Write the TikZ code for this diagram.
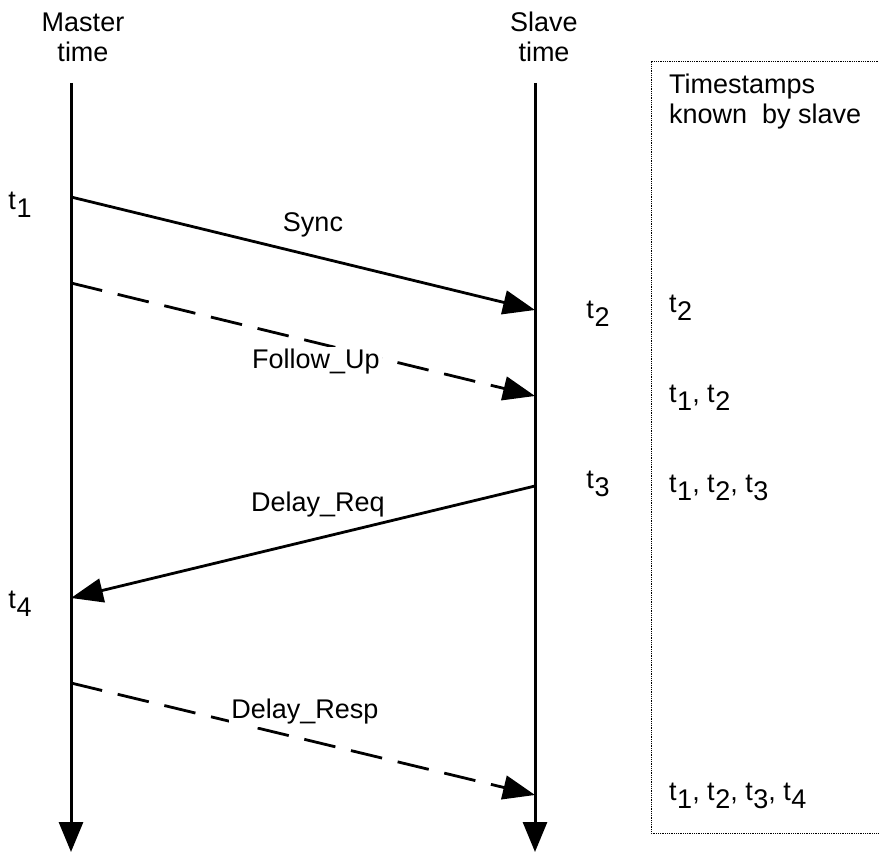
\documentclass[tikz,border=0pt]{standalone}
\usepackage{fontspec}
\setmainfont{Liberation Sans}
\usetikzlibrary{arrows.meta}

\newcommand{\tst}[1]{t\kern0.02em\raisebox{-0.3em}{#1}}

\tikzset{
  timeline/.style={line width=3pt, -{Triangle[length=30pt,width=24pt]}},
  msg/.style={line width=2.8pt, -{Triangle[length=32pt,width=24pt]}},
  fup/.style={msg, dash pattern=on 32pt off 16pt},
  lbl/.style={font=\fontsize{27}{30}\selectfont, inner sep=2pt},
}

\begin{document}
\begin{tikzpicture}[x=1pt,y=-1pt]
\useasboundingbox (0,0) rectangle (879,853);

%time axes
\coordinate (mtop) at (71,83);
\coordinate (mbot) at (71,852);
\coordinate (stop) at (535,83);
\coordinate (sbot) at (535,852);
\draw[timeline] (mtop) -- (mbot);
\draw[timeline] (stop) -- (sbot);

%headings
\node[lbl, align=center] (mhead) at (83,37) {Master\\time};
\node[lbl, align=center] (shead) at (544,37) {Slave\\time};

%event points on the axes
\coordinate (m1) at (71,197);
\coordinate (s2) at (535,310);
\coordinate (m1b) at (71,283);
\coordinate (s2b) at (535,396);
\coordinate (s3) at (535,486);
\coordinate (m4) at (71,598);
\coordinate (m5) at (71,683);
\coordinate (s5) at (535,795);

%messages
\draw[msg] (m1) -- (s2);
\draw[fup] (m1b) -- (s2b);
\draw[msg] (s3) -- (m4);
\draw[fup] (m5) -- (s5);

\node[lbl] (sync) at (313,225) {Sync};
\node[lbl, fill=white] (follow) at (316,362) {Follow\_Up};
\node[lbl] (dreq) at (318,505) {Delay\_Req};
\node[lbl, fill=white] (dresp) at (305,712) {Delay\_Resp};

%timestamps
\node[lbl] (t1) at (20,205) {\tst{1}};
\node[lbl] (t2) at (598,314) {\tst{2}};
\node[lbl] (t3) at (598,484) {\tst{3}};
\node[lbl] (t4) at (20,604) {\tst{4}};

%timestamps known by slave
\draw[densely dotted, line width=0.8pt] (880,61) -- (651,61) -- (651,833) -- (880,833);
\node[lbl, align=left, anchor=north west] (known) at (667,72) {Timestamps\\known\ \ by slave};
\node[lbl, anchor=west] (k1) at (667,308) {\tst{2}};
\node[lbl, anchor=west] (k2) at (667,398) {\tst{1}, \tst{2}};
\node[lbl, anchor=west] (k3) at (667,488) {\tst{1}, \tst{2}, \tst{3}};
\node[lbl, anchor=west] (k4) at (667,796) {\tst{1}, \tst{2}, \tst{3}, \tst{4}};

\end{tikzpicture}
\end{document}
